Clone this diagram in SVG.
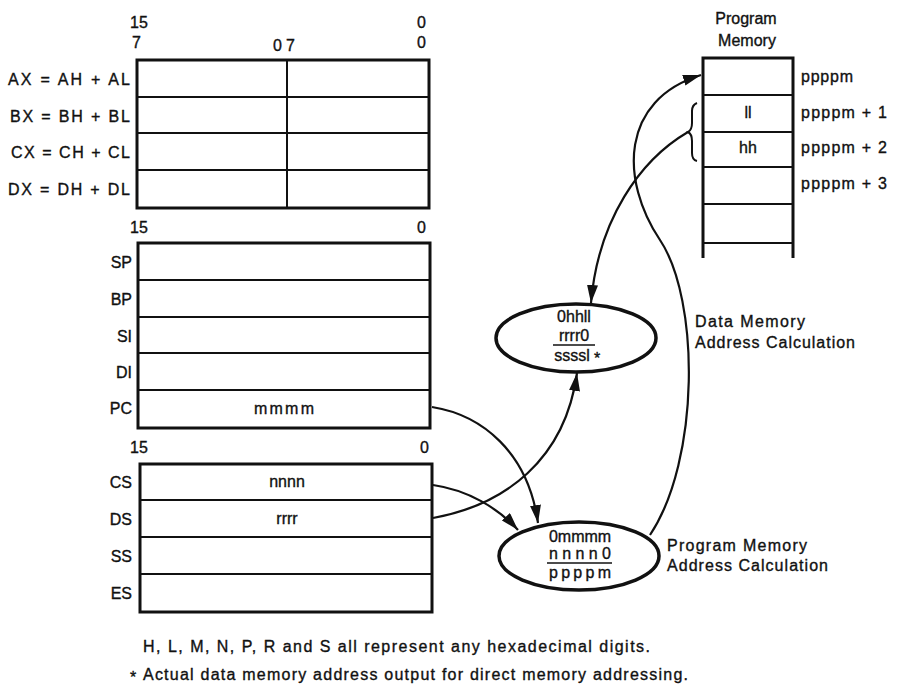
<svg xmlns="http://www.w3.org/2000/svg" width="910" height="695" viewBox="0 0 910 695">
<style>
text{font-family:"Liberation Sans",Arial,sans-serif;font-size:16px;fill:#111;stroke:#111;stroke-width:0.35}
.box{fill:none;stroke:#111;stroke-width:3}
.ln{fill:none;stroke:#111;stroke-width:2}
.con{fill:none;stroke:#111;stroke-width:2.2}
.ell{fill:#fff;stroke:#111;stroke-width:3.5}
.r{text-anchor:end}
.m{text-anchor:middle}
</style>
<defs>
<marker id="ah" markerUnits="userSpaceOnUse" markerWidth="18" markerHeight="11" refX="18" refY="5.5" orient="auto">
<path d="M0,0 L18,5.5 L0,11 z" fill="#111"/>
</marker>
</defs>
<rect width="910" height="695" fill="#fff"/>

<g id="general-registers">
<text x="130" y="28">15</text>
<text x="417" y="28">0</text>
<text x="132" y="48">7</text>
<text x="273" y="51">0</text>
<text x="286" y="51">7</text>
<text x="417" y="48">0</text>
<rect class="box" x="137" y="60" width="292" height="148"/>
<line class="ln" x1="137" y1="97" x2="429" y2="97"/>
<line class="ln" x1="137" y1="133" x2="429" y2="133"/>
<line class="ln" x1="137" y1="170" x2="429" y2="170"/>
<line class="ln" x1="287" y1="60" x2="287" y2="208"/>
<text x="8" y="85" textLength="122" lengthAdjust="spacing">AX = AH + AL</text>
<text x="10" y="122" textLength="120" lengthAdjust="spacing">BX = BH + BL</text>
<text x="11" y="158" textLength="119" lengthAdjust="spacing">CX = CH + CL</text>
<text x="8" y="195" textLength="122" lengthAdjust="spacing">DX = DH + DL</text>
</g>

<g id="pointer-registers">
<text x="130" y="233">15</text>
<text x="417" y="233">0</text>
<rect class="box" x="138" y="243" width="292" height="185"/>
<line class="ln" x1="138" y1="280" x2="430" y2="280"/>
<line class="ln" x1="138" y1="317" x2="430" y2="317"/>
<line class="ln" x1="138" y1="353" x2="430" y2="353"/>
<line class="ln" x1="138" y1="390" x2="430" y2="390"/>
<text class="r" x="132" y="268">SP</text>
<text class="r" x="132" y="305">BP</text>
<text class="r" x="132" y="342">SI</text>
<text class="r" x="132" y="378">DI</text>
<text class="r" x="132" y="414">PC</text>
<text class="m" x="284" y="414" textLength="60" lengthAdjust="spacing">mmmm</text>
</g>

<g id="segment-registers">
<text x="130" y="453">15</text>
<text x="420" y="453">0</text>
<rect class="box" x="140" y="464" width="292" height="148"/>
<line class="ln" x1="140" y1="500" x2="432" y2="500"/>
<line class="ln" x1="140" y1="537" x2="432" y2="537"/>
<line class="ln" x1="140" y1="574" x2="432" y2="574"/>
<text class="r" x="132" y="488">CS</text>
<text class="r" x="132" y="525">DS</text>
<text class="r" x="132" y="562">SS</text>
<text class="r" x="132" y="599">ES</text>
<text class="m" x="287" y="487">nnnn</text>
<text class="m" x="287" y="524">rrrr</text>
</g>

<g id="program-memory">
<text class="m" x="746" y="24">Program</text>
<text class="m" x="747" y="46">Memory</text>
<path class="box" d="M703,258 V58 H793 V258"/>
<line class="ln" x1="703" y1="95" x2="793" y2="95"/>
<line class="ln" x1="703" y1="132" x2="793" y2="132"/>
<line class="ln" x1="703" y1="167" x2="793" y2="167"/>
<line class="ln" x1="703" y1="204" x2="793" y2="204"/>
<line class="ln" x1="703" y1="243" x2="793" y2="243"/>
<text class="m" x="748" y="118">ll</text>
<text class="m" x="748" y="153">hh</text>
<text x="801" y="82" textLength="52" lengthAdjust="spacing">ppppm</text>
<text x="801" y="118" textLength="86" lengthAdjust="spacing">ppppm + 1</text>
<text x="801" y="153" textLength="86" lengthAdjust="spacing">ppppm + 2</text>
<text x="801" y="189" textLength="86" lengthAdjust="spacing">ppppm + 3</text>
<path class="ln" d="M697,103 q-5,2 -5,8 v12 q0,7 -4,9 q4,2 4,9 v12 q0,7 5,8"/>
</g>

<g id="connectors">
<path class="con" d="M432,407 C482,415 528,452 538,523" marker-end="url(#ah)"/>
<path class="con" d="M433,485 C468,490 498,508 518,530" marker-end="url(#ah)"/>
<path class="con" d="M433,518 C505,505 565,460 577,373" marker-end="url(#ah)"/>
<path class="con" d="M688,132 C640,160 598,220 591,303" marker-end="url(#ah)"/>
<path class="con" d="M650,535 C700,460 700,300 660,240 C620,180 620,100 701,75" marker-end="url(#ah)"/>
</g>

<g id="data-address-calc">
<ellipse class="ell" cx="576" cy="338" rx="80" ry="34"/>
<text class="m" x="574" y="322">0hhll</text>
<text class="m" x="574" y="341">rrrr0</text>
<line x1="553" y1="345" x2="595" y2="345" stroke="#111" stroke-width="1.5"/>
<text class="m" x="572" y="361">ssssl</text>
<text x="594" y="364">*</text>
<text x="695" y="327" textLength="110" lengthAdjust="spacing">Data Memory</text>
<text x="695" y="348" textLength="160" lengthAdjust="spacing">Address Calculation</text>
</g>

<g id="program-address-calc">
<ellipse class="ell" cx="579" cy="556" rx="80" ry="34"/>
<text class="m" x="580" y="542" textLength="62" lengthAdjust="spacing">0mmmm</text>
<text class="m" x="580" y="559" textLength="62" lengthAdjust="spacing">nnnn0</text>
<line x1="547" y1="563" x2="612" y2="563" stroke="#111" stroke-width="1.5"/>
<text class="m" x="580" y="578" textLength="62" lengthAdjust="spacing">ppppm</text>
<text x="667" y="551" textLength="140" lengthAdjust="spacing">Program Memory</text>
<text x="667" y="571" textLength="161" lengthAdjust="spacing">Address Calculation</text>
</g>

<g id="notes">
<text x="143" y="652" font-size="16" textLength="507" lengthAdjust="spacing">H, L, M, N, P, R and S all represent any hexadecimal digits.</text>
<text x="130" y="683" font-size="16">*</text>
<text x="143" y="680" font-size="16" textLength="545" lengthAdjust="spacing">Actual data memory address output for direct memory addressing.</text>
</g>
</svg>
